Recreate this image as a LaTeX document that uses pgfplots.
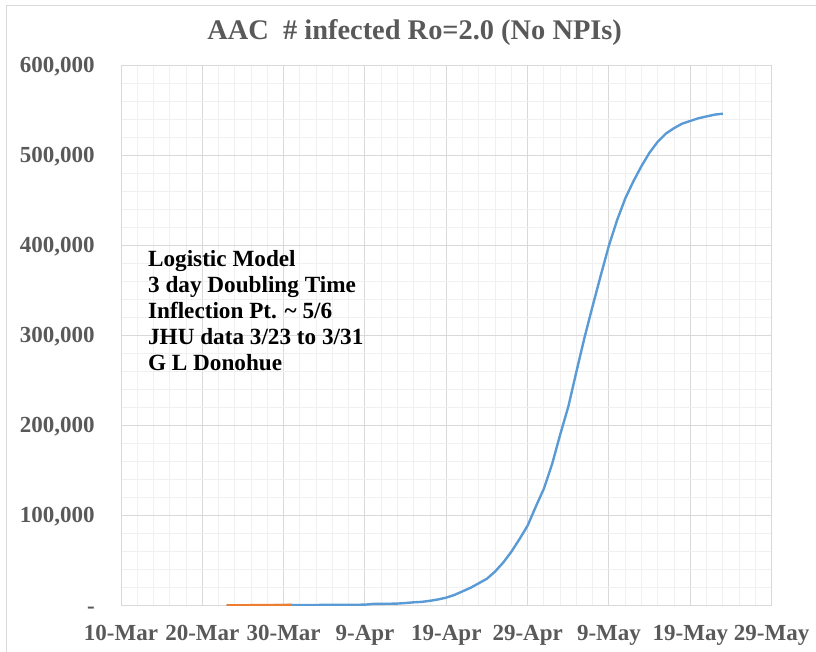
\documentclass[border=0pt]{standalone}
\usepackage{pgfplots}
\pgfplotsset{compat=1.18}
\usepackage{fontspec}
\setmainfont{Liberation Serif}
\definecolor{txtgray}{RGB}{89,89,89}
\definecolor{majgrid}{RGB}{217,217,217}
\definecolor{mingrid}{RGB}{240,240,240}
\definecolor{xlblue}{RGB}{91,155,213}
\definecolor{xlorange}{RGB}{237,125,49}
\begin{document}
\begin{tikzpicture}
\useasboundingbox (0,0) rectangle (612pt,489pt);
\draw[majgrid, line width=0.75pt] (4.5pt,0) -- (4.5pt,484.5pt) -- (612pt,484.5pt);
\node[font=\fontsize{21.3}{25}\selectfont\bfseries, text=txtgray, anchor=base] at (311pt,459pt) {AAC\ \ \# infected Ro=2.0 (No NPIs)};
\begin{axis}[
  at={(90.75pt,34.7pt)}, anchor=south west, scale only axis,
  width=488pt, height=405.5pt,
  xmin=0, xmax=80, ymin=0, ymax=600000,
  xtick={0,10,...,80},
  xticklabels={10-Mar,20-Mar,30-Mar,9-Apr,19-Apr,29-Apr,9-May,19-May,29-May},
  ytick={0,100000,200000,300000,400000,500000,600000},
  yticklabels={-\hspace{9pt},{100,000},{200,000},{300,000},{400,000},{500,000},{600,000}},
  minor x tick num=4, minor y tick num=4,
  grid=both,
  major grid style={majgrid, line width=0.75pt},
  minor grid style={mingrid, line width=0.75pt},
  axis line style={majgrid, line width=0.75pt},
  tick style={draw=none},
  scaled y ticks=false,
  ticklabel style={font=\fontsize{17.25}{20}\selectfont\bfseries, text=txtgray, inner sep=0pt},
  xticklabel style={anchor=base, yshift=-26.25pt},
  yticklabel style={anchor=base east, xshift=-19.5pt, yshift=-5.5pt},
]
\addplot[xlblue, line width=1.8pt, line join=round] coordinates {
(13,300) (14,350) (15,400) (16,450) (17,500) (18,550) (19,600) (20,650)
(21,700) (22,750) (23,800) (24,850) (25,900) (26,950) (27,1000) (28,1050)
(29,1100) (30,1200) (31,2000) (32,2100) (33,2200) (34,2400) (35,3000)
(36,3800) (37,4300) (38,5500) (39,7000) (40,9000) (41,12000) (42,16000)
(43,20000) (44,25000) (45,30000) (46,38000) (47,48000) (48,60000)
(49,74000) (50,89000) (51,110000) (52,130000) (53,157000) (54,190000)
(55,221000) (56,260000) (57,298000) (58,333000) (59,367000) (60,400000)
(61,428000) (62,452000) (63,471000) (64,488000) (65,503000) (66,515000)
(67,524000) (68,530000) (69,535000) (70,538000) (71,541000) (72,543000)
(73,545000) (74,546000)
};
\addplot[xlorange, line width=1.8pt] coordinates {
(13,400) (14,500) (15,550) (16,600) (17,700) (18,750) (19,800) (20,850) (21,900)
};
\node[anchor=north west, align=left, inner sep=0pt, font=\fontsize{17.4}{19.5}\selectfont\bfseries] at (axis cs:3.3,394600)
{Logistic Model\\3 day Doubling Time\\Inflection Pt. \textasciitilde\ 5/6\\JHU data 3/23 to 3/31\\G L Donohue};
\end{axis}
\end{tikzpicture}
\end{document}
